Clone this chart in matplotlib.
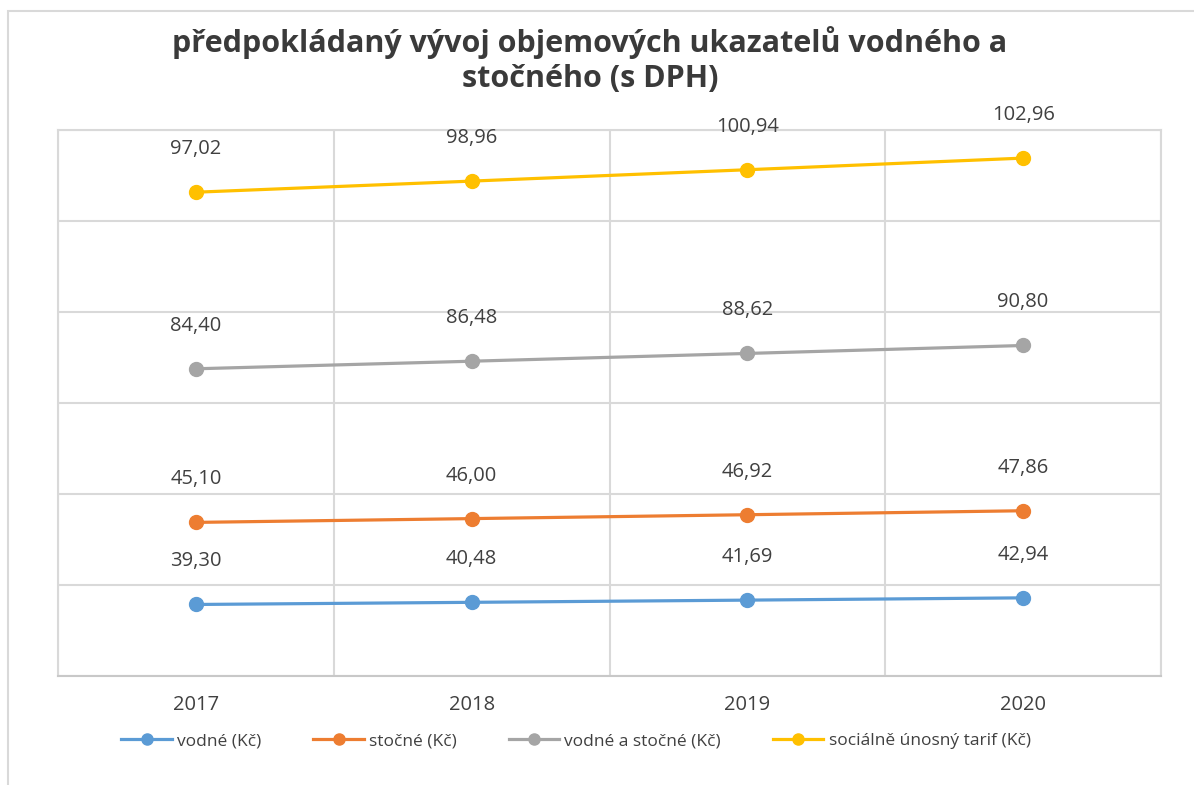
import numpy as np
import matplotlib.pyplot as plt
from matplotlib.patches import Rectangle

plt.rcParams['font.family'] = ['Open Sans', 'DejaVu Sans']

years = ['2017', '2018', '2019', '2020']
vodne = [39.30, 40.48, 41.69, 42.94]
stocne = [45.10, 46.00, 46.92, 47.86]
vodne_stocne = [84.40, 86.48, 88.62, 90.80]
tarif = [97.02, 98.96, 100.94, 102.96]

names = ['vodné (Kč)', 'stočné (Kč)', 'vodné a stočné (Kč)', 'sociálně únosný tarif (Kč)']
colors = ['#5B9BD5', '#ED7D31', '#A5A5A5', '#FFC000']
txt = '#404040'
grid = '#D9D9D9'

series = [vodne, stocne, vodne_stocne, tarif]
# stacked line chart (Excel "stacked line with markers")
stacked = np.cumsum(np.array(series), axis=0)

fig = plt.figure(figsize=(11.94, 7.85), dpi=100)
ax = fig.add_axes([58/1194, 1-676/785, (1161-58)/1194, (676-130)/785])

x = np.arange(len(years))
for vals, tops, name, c in zip(series, stacked, names, colors):
    ax.plot(x, tops, color=c, lw=2.3, marker='o', ms=10, label=name, zorder=3)
    for xi, v, t in zip(x, vals, tops):
        ax.annotate(f'{v:.2f}'.replace('.', ','), (xi, t), xytext=(0, 31),
                    textcoords='offset points', ha='center', va='center',
                    fontsize=14.5, color=txt)

ax.set_xlim(-0.5, 3.5)
ax.set_ylim(0, 300)
ax.set_yticks(np.arange(0, 301, 50))
ax.set_xticks(x)
ax.set_xticklabels(years, fontsize=14.5, color=txt)
ax.set_xticks(np.arange(-0.5, 3.6, 1), minor=True)
ax.tick_params(axis='y', left=False, labelleft=False)
ax.tick_params(axis='x', which='both', length=0, pad=14)
ax.grid(True, axis='y', color=grid, lw=1.5)
ax.grid(True, axis='x', which='minor', color=grid, lw=1.5)
for s in ax.spines.values():
    s.set_color(grid)
    s.set_linewidth(1.5)
ax.spines['bottom'].set_color('#C8C8C8')
ax.set_axisbelow(True)

fig.text(590/1194, 1-60/785, 'předpokládaný vývoj objemových ukazatelů vodného a\nstočného (s DPH)',
         ha='center', va='center', fontsize=22, fontweight='bold', color='#3A3A3A', linespacing=1.25)

fig.legend(loc='center', bbox_to_anchor=(576/1194, 1-741/785),
           ncol=4, frameon=False, fontsize=12.5, labelcolor=txt, handlelength=2.9,
           handletextpad=0.3, columnspacing=3.0, markerscale=0.8)

fig.add_artist(Rectangle((8/1194, -0.02), 1.1, 1-11/785+0.02, transform=fig.transFigure,
                         fill=False, edgecolor=grid, lw=1.5))

fig.savefig('out.png', dpi=100, facecolor='white')
